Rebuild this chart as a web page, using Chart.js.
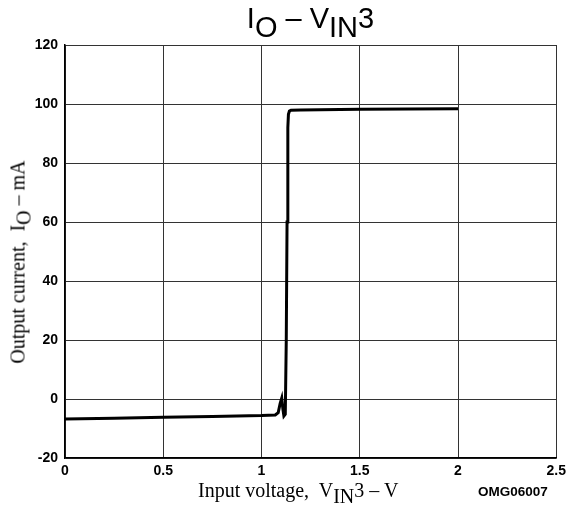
<!DOCTYPE html>
<html>
<head>
<meta charset="utf-8">
<script src="https://cdn.jsdelivr.net/npm/chart.js@4/dist/chart.umd.min.js"></script>
<style>
  html, body { margin: 0; padding: 0; background: #fff; }
  #wrap { position: relative; width: 571px; height: 518px; overflow: hidden; }
  #c { position: absolute; left: 0; top: 0; }
  .t { position: absolute; white-space: nowrap; color: #000; }
  sub { vertical-align: baseline; position: relative; top: 0.3em; font-size: 1em; }
  #title { font-family: "Liberation Sans", Arial, sans-serif; font-size: 29px; left: 0; width: 571px; top: 2px; text-align: center; padding-left: 50px; box-sizing: border-box; }
  #xt { font-family: "Liberation Serif", "Times New Roman", serif; font-size: 20px; left: 198px; top: 479px; }
  #yt { font-family: "Liberation Serif", "Times New Roman", serif; font-size: 20px; left: 18px; top: 262px; transform: translate(-50%, -50%) rotate(-90deg); }
  #code { font-family: "Liberation Sans", Arial, sans-serif; font-weight: bold; font-size: 13.5px; left: 478px; top: 484px; }
</style>
</head>
<body>
<div id="wrap">
  <canvas id="c" width="571" height="518"></canvas>
  <div class="t" id="title">I<sub>O</sub> – V<sub>IN</sub>3</div>
  <div class="t" id="yt">Output current,&nbsp; I<sub>O</sub> – mA</div>
  <div class="t" id="xt">Input voltage,&nbsp; V<sub>IN</sub>3 – V</div>
  <div class="t" id="code">OMG06007</div>
</div>
<script>
const voltage = [0, 0.25, 0.5, 0.75, 1.0, 1.07, 1.085, 1.095, 1.103, 1.109, 1.114, 1.121, 1.126, 1.13, 1.134, 1.137, 1.142, 1.15, 1.2, 1.5, 2.0];
const current = [-6.8, -6.5, -6.2, -5.9, -5.6, -5.4, -4.6, -1.5, 0.3, -3.5, -5.8, -5.2, 20, 60, 92, 96.5, 97.6, 97.9, 98.0, 98.2, 98.4];
const xTicks = [0, 0.5, 1, 1.5, 2, 2.5];
const yTicks = [-20, 0, 20, 40, 60, 80, 100, 120];

const pts = voltage.map((v, i) => ({ x: v, y: current[i] }));
const tickFont = { family: "'Liberation Sans', Arial, sans-serif", size: 14, weight: 'bold' };

new Chart(document.getElementById('c'), {
  type: 'line',
  data: { datasets: [{ data: pts, borderColor: '#000', borderWidth: 3, pointRadius: 0, tension: 0, fill: false }] },
  options: {
    responsive: false,
    animation: false,
    events: [],
    plugins: { legend: { display: false }, title: { display: false }, tooltip: { enabled: false } },
    layout: { padding: { left: 0, right: 12, top: 45, bottom: 0 } },
    scales: {
      x: {
        type: 'linear', min: 0, max: 2.5,
        afterBuildTicks: s => { s.ticks = xTicks.map(v => ({ value: v })); },
        afterFit: s => { s.height = 60; },
        ticks: { font: tickFont, color: '#000', padding: 5, maxRotation: 0, autoSkip: false,
                 callback: v => String(v) },
        grid: { color: '#333', lineWidth: 1, drawTicks: false },
        border: { color: '#000', width: 1.5 }
      },
      y: {
        type: 'linear', min: -20, max: 120,
        afterBuildTicks: s => { s.ticks = yTicks.map(v => ({ value: v })); },
        afterFit: s => { s.width = 65; },
        ticks: { font: tickFont, color: '#000', padding: 7, autoSkip: false, callback: v => String(v) },
        grid: { color: '#333', lineWidth: 1, drawTicks: false },
        border: { color: '#000', width: 1.5 }
      }
    }
  }
});
</script>
</body>
</html>
